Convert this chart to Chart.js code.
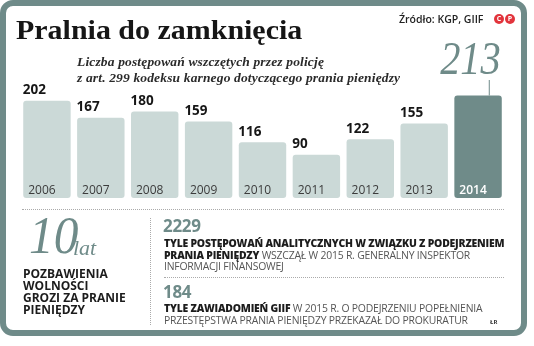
<!DOCTYPE html>
<html>
<head>
<meta charset="utf-8">
<script src="https://cdn.jsdelivr.net/npm/chart.js@4.4.1/dist/chart.umd.min.js"></script>
<style>
  html, body { margin: 0; padding: 0; background: #fff; }
  #wrap { position: relative; width: 534px; height: 346px; overflow: hidden; font-family: "Open Sans", sans-serif; }
  #frame { position: absolute; left: 0; top: 0; width: 527px; height: 336px; box-sizing: border-box;
           border: 6px solid #6f8b89; border-radius: 13px; }
  canvas { position: absolute; left: 0; top: 0; }
  .t { position: absolute; white-space: nowrap; }
  #title { left: 16px; top: 13px; font: bold 28px "Liberation Serif", serif; color: #161616; line-height: 34px;
           transform-origin: left top; transform: scaleX(1.07); }
  #src { left: 399px; top: 12px; font: 600 10.5px "Open Sans", sans-serif; color: #222; line-height: 14px; }
  .cp { position: absolute; top: 14px; width: 10px; height: 10px; border-radius: 50%; background: #e2343c;
        color: #fff; font: bold 7px "Open Sans", sans-serif; line-height: 10px; text-align: center; }
  #sub { left: 77px; top: 54px; font: italic bold 13.5px "Liberation Serif", serif; color: #2a2a2a; line-height: 15.5px;
         letter-spacing: 0.15px; }
  .dotH { position: absolute; height: 0; border-top: 1px dotted #aaa; }
  .dotV { position: absolute; width: 0; border-left: 1px dotted #aaa; }
  .big { font-family: "Liberation Serif", serif; font-style: italic; color: #6f8b89; }
  #ten { left: 29px; top: 210px; font-size: 52px; line-height: 52px; transform-origin: left top; transform: scaleX(0.95); }
  #lat { left: 73px; top: 236px; font-size: 22px; line-height: 24px; }
  #pozb { left: 23px; top: 268px; font: bold 12px "Open Sans", sans-serif; color: #1c1c1c; line-height: 12px; }
  .num { font: bold 17px "Open Sans", sans-serif; color: #6f8b89; line-height: 18px; letter-spacing: -0.3px; }
  .txt { font: 10.4px "Open Sans", sans-serif; color: #555; line-height: 11.7px; letter-spacing: -0.2px; }
  .txt b { color: #1c1c1c; font-weight: 800; }
  #lr { left: 490px; top: 318px; font: bold 6px "Open Sans", sans-serif; color: #333; }
</style>
</head>
<body>
<div id="wrap">
  <div id="frame"></div>
  <canvas id="chart" width="534" height="346"></canvas>
  <div class="t" id="title">Pralnia do zamknięcia</div>
  <div class="t" id="src">Źródło: KGP, GIIF</div>
  <div class="cp" style="left:494px">C</div>
  <div class="cp" style="left:505px">P</div>
  <div class="t" id="sub">Liczba postępowań wszczętych przez policję<br>z art. 299 kodeksu karnego dotyczącego prania pieniędzy</div>

  <div class="dotH" style="left:22px; top:209px; width:482px"></div>
  <div class="dotV" style="left:150px; top:218px; height:107px"></div>
  <div class="dotH" style="left:164px; top:277px; width:340px"></div>

  <div class="t big" id="ten">10</div>
  <div class="t big" id="lat">lat</div>
  <div class="t" id="pozb">POZBAWIENIA<br>WOLNOŚCI<br>GROZI ZA PRANIE<br>PIENIĘDZY</div>

  <div class="t num" style="left:163px; top:217px">2229</div>
  <div class="t txt" style="left:164px; top:238px"><b>TYLE POSTĘPOWAŃ ANALITYCZNYCH W ZWIĄZKU Z PODEJRZENIEM<br>PRANIA PIENIĘDZY</b> WSZCZĄŁ W 2015 R. GENERALNY INSPEKTOR<br>INFORMACJI FINANSOWEJ</div>
  <div class="t num" style="left:163px; top:283px">184</div>
  <div class="t txt" style="left:164px; top:303px"><b>TYLE ZAWIADOMIEŃ GIIF</b> W 2015 R. O PODEJRZENIU POPEŁNIENIA<br>PRZESTĘPSTWA PRANIA PIENIĘDZY PRZEKAZAŁ DO PROKURATUR</div>
  <div class="t" id="lr">ŁR</div>
</div>

<script>
var years = ['2006', '2007', '2008', '2009', '2010', '2011', '2012', '2013', '2014'];
var counts = [202, 167, 180, 159, 116, 90, 122, 155, 213];

var lightBar = '#cbd9d7';
var darkBar = '#6f8b89';
var lastIdx = counts.length - 1;

var barColors = counts.map(function (v, i) { return i === lastIdx ? darkBar : lightBar; });

// value labels above bars, years inside, big number for the last bar
var labelPlugin = {
    id: 'barLabels',
    afterDatasetsDraw: function (chart) {
        var ctx = chart.ctx;
        var meta = chart.getDatasetMeta(0);
        var base = chart.scales.y.getPixelForValue(0);
        ctx.save();
        meta.data.forEach(function (bar, i) {
            var left = bar.x - bar.width / 2;
            ctx.textAlign = 'left';
            ctx.textBaseline = 'alphabetic';
            if (i !== lastIdx) {
                ctx.fillStyle = '#161616';
                ctx.font = 'bold 13.5px "Open Sans", sans-serif';
                ctx.fillText(String(counts[i]), left - 0.5, bar.y - 6.5);
            }
            ctx.fillStyle = i === lastIdx ? '#ffffff' : '#3c3c3c';
            ctx.font = (i === lastIdx ? '600 ' : '') + '12px "Open Sans", sans-serif';
            ctx.fillText(years[i], left + 5, base - 4.5);
        });

        // big highlighted value with a leader line down to the bar
        var last = meta.data[lastIdx];
        var right = last.x + last.width / 2;
        ctx.strokeStyle = darkBar;
        ctx.lineWidth = 1;
        ctx.beginPath();
        ctx.moveTo(right - 12.5, 80);
        ctx.lineTo(right - 12.5, last.y);
        ctx.stroke();

        ctx.translate(right - 1, 74);
        ctx.scale(0.86, 1);
        ctx.fillStyle = darkBar;
        ctx.textAlign = 'right';
        ctx.font = 'italic 47px "Liberation Serif", serif';
        ctx.fillText(String(counts[lastIdx]), 0, 0);
        ctx.restore();
    }
};

new Chart(document.getElementById('chart'), {
    type: 'bar',
    data: {
        labels: years,
        datasets: [{
            data: counts,
            backgroundColor: barColors,
            borderRadius: 3,
            borderSkipped: false,
            barPercentage: 0.88,
            categoryPercentage: 1.0
        }]
    },
    options: {
        responsive: false,
        animation: false,
        layout: { padding: { left: 20, right: 29, top: 70, bottom: 148 } },
        plugins: { legend: { display: false }, tooltip: { enabled: false } },
        scales: {
            x: { display: false },
            y: { display: false, min: 0, max: 266 }
        }
    },
    plugins: [labelPlugin]
});
</script>
</body>
</html>
